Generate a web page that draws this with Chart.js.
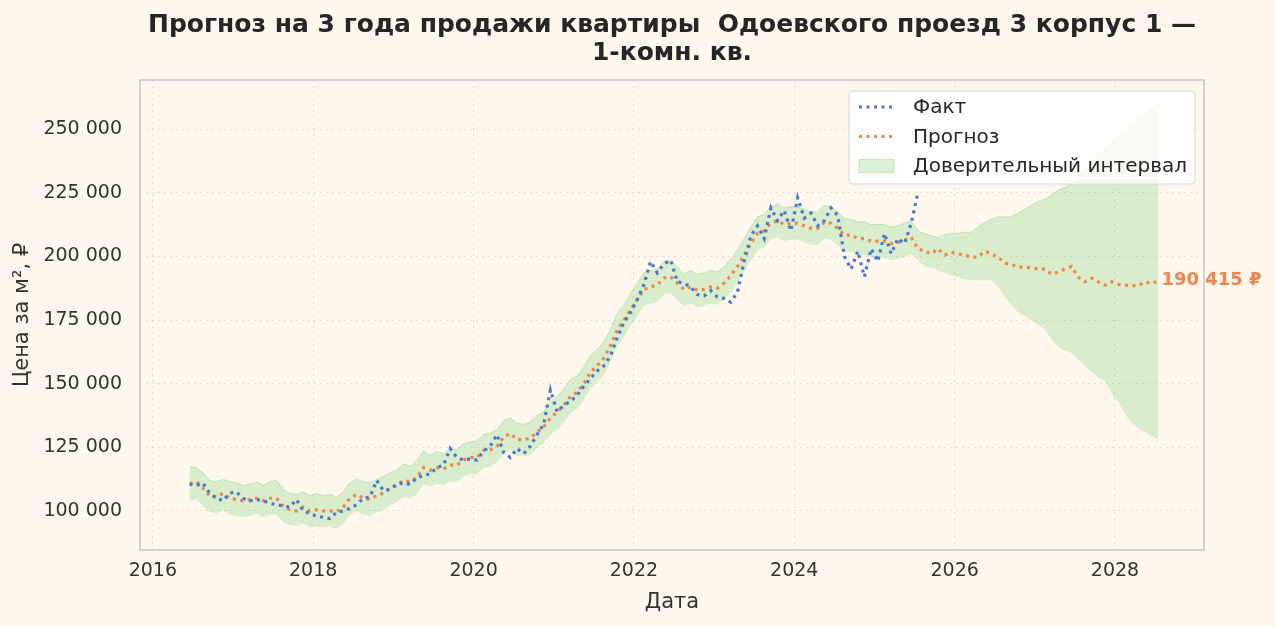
<!DOCTYPE html>
<html><head><meta charset="utf-8">
<script src="https://cdn.jsdelivr.net/npm/chart.js@4.4.0/dist/chart.umd.min.js"></script>
<style>html,body{margin:0;padding:0;background:#fef7ee;}#wrap{width:1275px;height:626px;position:relative}</style>
</head><body><div id="wrap"><canvas id="c" width="1275" height="626" style="width:1275px;height:626px"></canvas></div>
<script>
// ---- texts ----
const titleLines = ['Прогноз на 3 года продажи квартиры  Одоевского проезд 3 корпус 1 —', '1-комн. кв.'];
const xAxisTitle = 'Дата';
const yAxisTitle = 'Цена за м², ₽';
const legendLabels = ['Факт', 'Прогноз', 'Доверительный интервал'];

// ---- data (monthly, values in thousand ₽ per m²) ----
const factStart = [2016, 6];
const factK = [
  110.5, 110, 111, 107, 105, 104, 107,
  107.5, 105, 104, 104.5, 104, 103, 102.5, 102, 101.5, 104.5, 100, 99,
  98, 97.5, 97, 99.5, 100, 101, 102.5, 105, 105.5, 112, 108, 108.5,
  110.5, 111, 110.5, 113, 114, 114.5, 117, 118, 124.5, 121, 120, 120.5,
  120, 123.5, 125.5, 130, 123, 121, 124.5, 122.5, 125.5, 130, 134, 147.5,
  139, 141.5, 143, 145.5, 149, 152, 155, 157, 161, 168, 174, 178,
  183, 189, 198, 193.5, 197, 198.5, 190, 189.5, 188, 185, 184.5, 186.5,
  184, 183.5, 182, 186, 198, 208, 212, 207, 219, 214, 218, 210,
  223, 215, 217, 212, 214, 219, 216, 200, 195, 202, 192, 203,
  198, 209, 201, 207, 205, 213, 225
];
const forecastStart = [2016, 6];
const forecastK = [
  110.8, 111.5, 109, 106, 105.5, 107, 105,
  104.5, 104, 104.5, 105, 104, 105, 105, 102, 100.5, 100, 101.5, 100,
  100.5, 100, 100, 99.7, 101.5, 105, 106.5, 105, 104.5, 106, 107, 108.8,
  110, 112, 111.5, 113, 117, 116, 117, 116.5, 118, 118, 120, 121,
  121, 123.8, 124, 125.4, 129, 130.5, 128, 128, 128.5, 131, 133, 136.5,
  138.8, 141.5, 145, 146.6, 150, 154.5, 157, 160, 165, 171, 175, 179,
  183, 187, 188, 188.7, 191.5, 192, 189.5, 187, 188, 186.7, 187, 188,
  187.5, 189.5, 192.5, 196, 200.5, 205, 209, 210, 213, 214, 212.5, 213,
  213, 212, 211, 211, 213.5, 213, 211, 208.3, 208.3, 207, 207, 206,
  206, 206, 205, 205.5, 206.3, 207.5, 203, 202, 201, 203, 200.5, 201.6,
  201, 200.5, 199.7, 199.7, 202, 201, 199.7, 197.3, 196.8, 195.8, 195.8, 195.5,
  195, 195, 193, 193.8, 195, 196, 191.8, 190, 191.4, 190, 188.7, 190,
  189, 188.7, 188.5, 188.5, 190, 189.3, 190.415
];
const bandLowK = [
  104, 104.5, 102, 99.5, 99, 100.5, 98.5,
  98, 97.5, 98, 99, 97.5, 98.5, 98.5, 95.5, 94.5, 94, 95, 93.5,
  94, 93.5, 94, 93, 95, 98.5, 100, 98.5, 98, 99.5, 100.5, 102,
  103.5, 105.5, 105, 106.5, 110.5, 109.5, 110.5, 110, 111.5, 111.5, 113.5, 114.5,
  114.5, 117, 117.5, 119, 122.5, 124, 121.5, 121.5, 122, 124.5, 126.5, 130,
  132, 135, 138.5, 140, 143.5, 148, 150.5, 153.5, 158.5, 164.5, 168.5, 172.5,
  176.5, 180.5, 181.5, 182, 185, 185.5, 183, 180.5, 181.5, 180, 180.5, 181.5,
  181, 183, 186, 189.5, 194, 198.5, 202.5, 203.5, 206.5, 207.5, 206, 206.5,
  206.5, 205.5, 204.5, 204.5, 207, 206.5, 204.5, 201.5, 202, 200.5, 200.5, 199.5,
  199.5, 199.5, 198.5, 199, 199.5, 201, 198.5, 196, 195.5, 194.5, 193.5, 192.5,
  191.8, 191, 190.6, 190.6, 190.5, 190.6, 188, 184, 181, 178, 176.5, 175,
  173, 171.5, 167.5, 164.5, 163, 162, 159.5, 157, 154.5, 152.5, 151, 146,
  143, 138, 134.5, 132.5, 131, 129.5, 128
];
const bandHighK = [
  117.5, 117, 115, 112, 111.5, 112.5, 111.5,
  111, 110, 110.5, 111.5, 110, 111.5, 112, 108.5, 107, 106.5, 107.5, 106,
  107, 106, 106.5, 105.5, 107.5, 111, 112.5, 111.5, 111, 112.5, 113.5, 115,
  116, 118.5, 117.5, 119.5, 123.5, 122, 123.5, 122.5, 124.5, 124, 126.5, 127,
  127.5, 130, 130.5, 132, 135.5, 136.5, 134.5, 134, 135, 137.5, 139, 143,
  145, 148, 151.5, 153, 156.5, 161, 163.5, 166.5, 171.5, 177.5, 181, 185.5,
  189.5, 193.5, 194.5, 195, 198, 198.5, 196, 193, 194.5, 193, 193.5, 194.5,
  194, 196, 199, 202.5, 207, 211.5, 215.5, 216.5, 219.5, 220.5, 219, 219.5,
  219.5, 218.5, 217.5, 217.5, 220, 219.5, 217.5, 215, 214.5, 213.5, 213.5, 212.5,
  212.5, 212.5, 211.5, 212, 213, 214, 210, 209, 208, 207.5, 208.5, 209,
  209, 209.5, 209.5, 211.5, 213.5, 214.5, 215.5, 215.5, 215.5, 217, 218.5, 220,
  221.5, 222.5, 224, 226, 227, 228.5, 231, 234, 237, 240.5, 242, 245,
  247, 249, 251, 253.5, 256, 258, 260
];
const xTicks = [2016, 2018, 2020, 2022, 2024, 2026, 2028];
const yTicks = [100000, 125000, 150000, 175000, 200000, 225000, 250000];

// ---- helpers ----
function monthX(start, i) { const m = start[1] - 1 + i; return start[0] + Math.floor(m / 12) + ((m % 12) + 0.5) / 12; }
function pts(start, arr) { return arr.map((v, i) => ({ x: monthX(start, i), y: v * 1000 })); }
function fmt(v) { return String(Math.round(v)).replace(/\B(?=(\d{3})+(?!\d))/g, ' '); }

const factPts = pts(factStart, factK);
const fcPts = pts(forecastStart, forecastK);
const lowPts = pts(forecastStart, bandLowK);
const highPts = pts(forecastStart, bandHighK);

const BG = '#fef7ee';
const BLUE = '#4878d0', ORANGE = '#ee854a';
const GREEN_FILL = 'rgba(106,204,100,0.25)', GREEN_EDGE = 'rgba(106,204,100,0.35)';
const FONT = '"DejaVu Sans", sans-serif';
const DASH = [3, 4.5];

const decor = {
  id: 'decor',
  beforeDraw(chart) {
    const c = chart.ctx; c.save(); c.fillStyle = BG; c.fillRect(0, 0, chart.width, chart.height); c.restore();
  },
  afterDraw(chart) {
    const c = chart.ctx, a = chart.chartArea;
    c.save();
    c.strokeStyle = '#c8c8c8'; c.lineWidth = 1.6;
    c.strokeRect(a.left, a.top, a.right - a.left, a.bottom - a.top);
    c.fillStyle = '#262626'; c.font = 'bold 25px ' + FONT; c.textAlign = 'center'; c.textBaseline = 'middle';
    const cx = (a.left + a.right) / 2;
    titleLines.forEach((t, i) => c.fillText(t, cx, 25 + i * 28));
    const last = fcPts[fcPts.length - 1];
    const lx = chart.scales.x.getPixelForValue(last.x), ly = chart.scales.y.getPixelForValue(last.y);
    c.fillStyle = ORANGE; c.font = 'bold 18px ' + FONT; c.textAlign = 'left';
    c.fillText(fmt(last.y) + ' ₽', lx + 3, ly);
    c.font = '20px ' + FONT;
    const tw = Math.max(...legendLabels.map(t => c.measureText(t).width));
    const right = a.right - 9, top = a.top + 11, h = 93;
    const left = right - (10 + 35 + 19 + tw + 8);
    c.beginPath();
    if (c.roundRect) c.roundRect(left, top, right - left, h, 4); else c.rect(left, top, right - left, h);
    c.fillStyle = 'rgba(255,255,255,0.8)'; c.fill();
    c.strokeStyle = '#d8d8d8'; c.lineWidth = 1; c.stroke();
    const rows = [top + 16, top + 45.5, top + 75];
    const cols = [BLUE, ORANGE];
    for (let i = 0; i < 2; i++) {
      c.save(); c.strokeStyle = cols[i]; c.lineWidth = 3; c.setLineDash(DASH); c.lineCap = 'butt';
      c.beginPath(); c.moveTo(left + 10, rows[i]); c.lineTo(left + 45, rows[i]); c.stroke(); c.restore();
    }
    c.fillStyle = GREEN_FILL; c.fillRect(left + 10, rows[2] - 6.5, 35, 13);
    c.strokeStyle = GREEN_EDGE; c.lineWidth = 1; c.strokeRect(left + 10, rows[2] - 6.5, 35, 13);
    c.fillStyle = '#262626'; c.textAlign = 'left'; c.textBaseline = 'middle';
    legendLabels.forEach((t, i) => c.fillText(t, left + 64, rows[i] + 1));
    c.restore();
  }
};

const tickFont = { family: FONT, size: 19 };
const gridCfg = { color: '#e2dbcf', lineWidth: 1, drawTicks: false };

new Chart(document.getElementById('c'), {
  type: 'line',
  data: {
    datasets: [
      { label: 'low', data: lowPts, borderColor: 'rgba(0,0,0,0)', borderWidth: 0, pointRadius: 0, fill: false, order: 3 },
      { label: legendLabels[2], data: highPts, borderColor: GREEN_EDGE, borderWidth: 1, backgroundColor: GREEN_FILL, fill: '-1', pointRadius: 0, order: 3 },
      { label: legendLabels[1], data: fcPts, borderColor: ORANGE, borderWidth: 3.2, borderDash: DASH, borderCapStyle: 'butt', pointRadius: 0, fill: false, order: 2 },
      { label: legendLabels[0], data: factPts, borderColor: BLUE, borderWidth: 3.2, borderDash: DASH, borderCapStyle: 'butt', pointRadius: 0, fill: false, order: 1 }
    ]
  },
  options: {
    responsive: false, animation: false, devicePixelRatio: 1,
    layout: { padding: { left: 0, right: 71, top: 80, bottom: 0 } },
    plugins: { legend: { display: false }, title: { display: false }, tooltip: { enabled: false } },
    scales: {
      x: {
        type: 'linear', min: 2015.84, max: 2029.11,
        afterBuildTicks: s => { s.ticks = xTicks.map(v => ({ value: v })); },
        afterFit: s => { s.height = 76; },
        ticks: { callback: v => String(v), color: '#333', font: tickFont, padding: 10, maxRotation: 0, autoSkip: false },
        grid: gridCfg, border: { display: false, dash: [2, 4] },
        title: { display: true, text: xAxisTitle, color: '#333', font: { family: FONT, size: 21 }, padding: { top: 0, bottom: 11 } }
      },
      y: {
        type: 'linear', min: 84670, max: 269260,
        afterBuildTicks: s => { s.ticks = yTicks.map(v => ({ value: v })); },
        afterFit: s => { s.width = 140; },
        ticks: { callback: v => fmt(v), color: '#333', font: tickFont, padding: 18 },
        grid: gridCfg, border: { display: false, dash: [2, 4] },
        title: { display: true, text: yAxisTitle, color: '#333', font: { family: FONT, size: 21 }, padding: { top: 10, bottom: 0 } }
      }
    }
  },
  plugins: [decor]
});
</script></body></html>
